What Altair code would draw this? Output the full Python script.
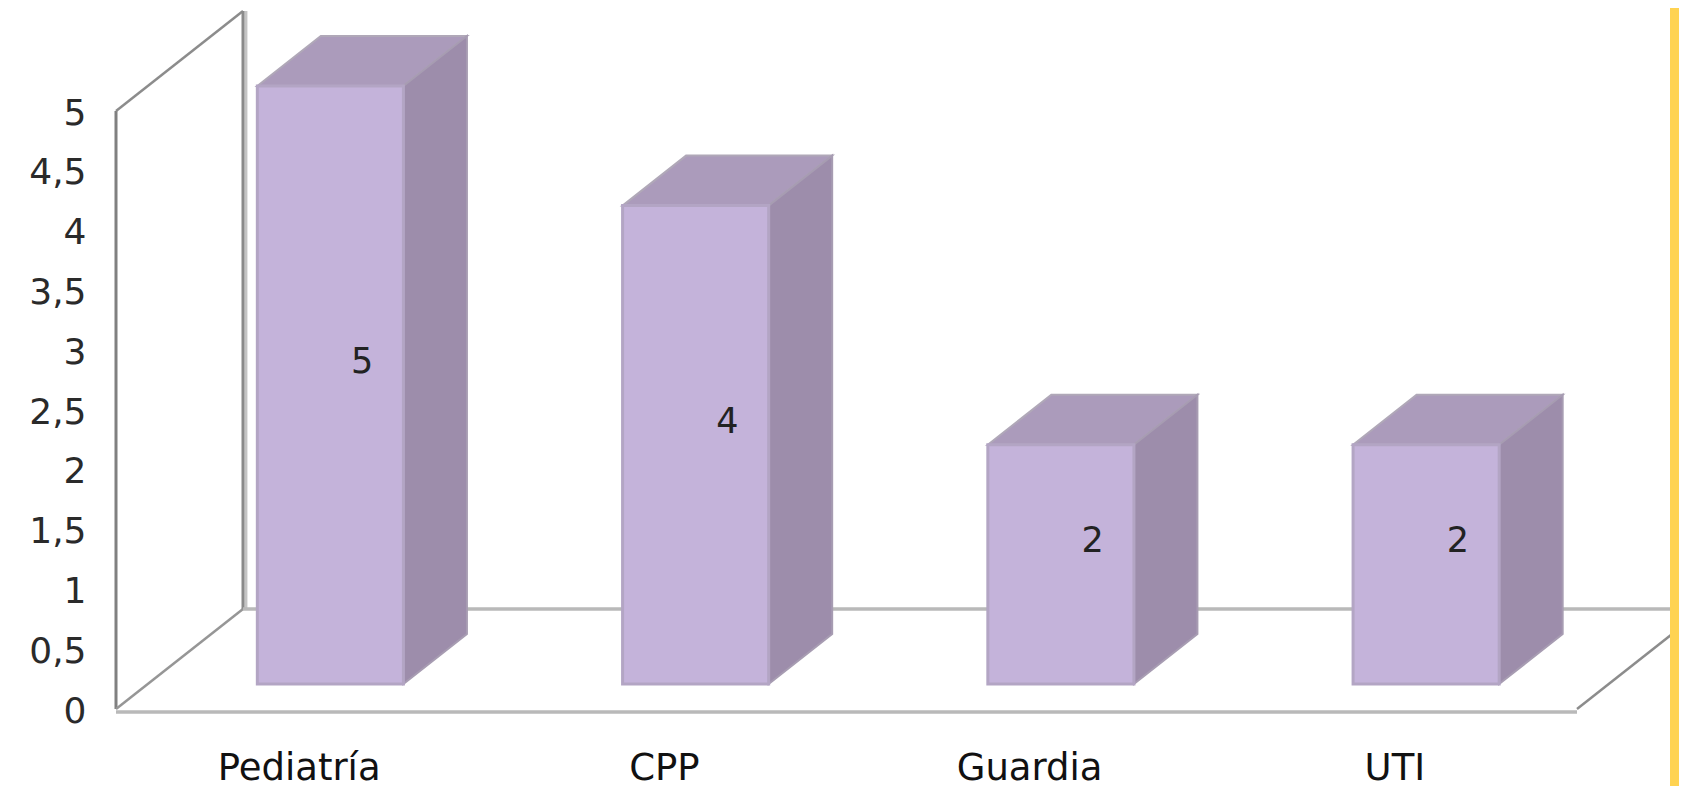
import altair as alt
import pandas as pd

categories = ["Pediatría", "CPP", "Guardia", "UTI"]
values = [5, 4, 2, 2]
y_ticks = [0, 0.5, 1, 1.5, 2, 2.5, 3, 3.5, 4, 4.5, 5]

# layout of the mock 3-D box, in axis units
W, H = 1671, 778
PX_X, PX_Y = 365.25, 119.6
X0, Y0 = 108, 701
DX, DY = 127 / PX_X, 100 / PX_Y
BAR_W = 0.4
FRONT, BACK = 0.25, 0.75
MAX_V = max(y_ticks)
N = len(categories)

x_scale = alt.Scale(domain=[-X0 / PX_X, (W - X0) / PX_X], range=[0, W], nice=False, zero=False)
y_scale = alt.Scale(domain=[-(H - Y0) / PX_Y, Y0 / PX_Y], range=[H, 0], nice=False, zero=False)

front_rows, top_rows, side_rows, label_rows = [], [], [], []
for i, (c, v) in enumerate(zip(categories, values)):
    l = i + 0.5 - BAR_W / 2 + FRONT * DX
    r = l + BAR_W
    b = FRONT * DY
    t = v + b
    dx = (BACK - FRONT) * DX
    dy = (BACK - FRONT) * DY
    front_rows.append(dict(c=c, l=l, r=r, b=b, t=t))
    for x, y1, y2 in [(l, t, t), (l + dx, t + dy, t), (r, t + dy, t), (r + dx, t + dy, t + dy)]:
        top_rows.append(dict(c=c, x=x, y=y1, y2=y2))
    for x, y1, y2 in [(r, t, b), (r + dx, t + dy, b + dy)]:
        side_rows.append(dict(c=c, x=x, y=y1, y2=y2))
    label_rows.append(dict(x=(l + r + dx) / 2, y=(t + dy + b) / 2, v=str(v)))

line_rows = [
    dict(x=DX + 0.008, y=DY, x2=DX + 0.008, y2=MAX_V + DY, col="#c4c4c4", w=3),
    dict(x=0, y=0, x2=0, y2=MAX_V, col="#808080", w=3),
    dict(x=0, y=MAX_V, x2=DX, y2=MAX_V + DY, col="#8c8c8c", w=2.5),
    dict(x=DX, y=DY, x2=DX, y2=MAX_V + DY, col="#8a8a8a", w=3),
    dict(x=0, y=0, x2=DX, y2=DY, col="#969696", w=2.5),
    dict(x=DX, y=DY, x2=N + DX, y2=DY, col="#b9b9b9", w=3.5),
    dict(x=0, y=-0.025, x2=N, y2=-0.025, col="#b9b9b9", w=3.5),
    dict(x=N, y=0, x2=N + DX, y2=DY, col="#8c8c8c", w=2.5),
]

font = "DejaVu Sans"

lines = alt.Chart(pd.DataFrame(line_rows)).mark_rule(clip=True).encode(
    x=alt.X("x:Q", scale=x_scale, axis=alt.Axis(
        title=None, values=[i + 0.5 for i in range(N)], domain=False, ticks=False, grid=False,
        labelExpr="['" + "','".join(categories) + "'][floor(datum.value)]",
        labelFont=font, labelFontSize=37, labelColor="#111111", labelBaseline="alphabetic",
        labelPadding=0, offset=-7, tickSize=0, orient="bottom")),
    x2="x2:Q",
    y=alt.Y("y:Q", scale=y_scale, axis=alt.Axis(
        title=None, values=y_ticks, domain=False, ticks=False, grid=False, tickSize=0,
        labelExpr="replace(format(datum.value, '~g'), '.', ',')",
        labelFont=font, labelFontSize=36, labelColor="#2a2a2a", labelPadding=0,
        labelOffset=2, offset=-78, orient="left")),
    y2="y2:Q",
    color=alt.Color("col:N", scale=None),
    strokeWidth=alt.StrokeWidth("w:Q", scale=None),
)

top = alt.Chart(pd.DataFrame(top_rows)).mark_area(
    color="#AB9BBB", stroke="#B0A8B8", strokeWidth=2, interpolate="linear").encode(
    x=alt.X("x:Q", scale=x_scale, axis=None),
    y=alt.Y("y:Q", scale=y_scale, axis=None), y2="y2:Q",
    detail="c:N")

side = alt.Chart(pd.DataFrame(side_rows)).mark_area(
    color="#9D8DAB", stroke="#A79CB2", strokeWidth=2, interpolate="linear").encode(
    x=alt.X("x:Q", scale=x_scale, axis=None),
    y=alt.Y("y:Q", scale=y_scale, axis=None), y2="y2:Q",
    detail="c:N")

front = alt.Chart(pd.DataFrame(front_rows)).mark_rect(
    color="#C4B3DA", stroke="#B3A5C4", strokeWidth=3).encode(
    x=alt.X("l:Q", scale=x_scale, axis=None), x2="r:Q",
    y=alt.Y("b:Q", scale=y_scale, axis=None), y2="t:Q")

labels = alt.Chart(pd.DataFrame(label_rows)).mark_text(
    font=font, fontSize=35, color="#222222", dy=2).encode(
    x=alt.X("x:Q", scale=x_scale, axis=None),
    y=alt.Y("y:Q", scale=y_scale, axis=None),
    text="v:N")

stripe = alt.Chart(pd.DataFrame({"a": [0]})).mark_rect(color="#FFD352").encode(
    x=alt.value(W - 9), x2=alt.value(W), y=alt.value(0), y2=alt.value(H))

chart = alt.layer(lines, top, side, front, labels, stripe).resolve_axis(
    x="independent", y="independent"
).properties(
    width=W, height=H, padding=0, background="white",
    autosize=alt.AutoSizeParams(type="none"),
).configure_view(stroke=None)

chart.save("out.html", embed_options={"renderer": "svg", "actions": False})
